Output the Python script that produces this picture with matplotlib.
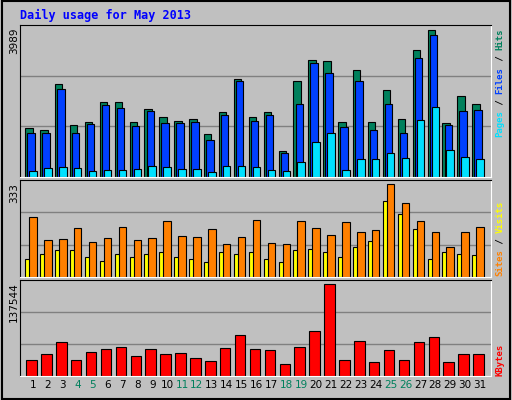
import matplotlib.pyplot as plt
import numpy as np

days = np.arange(1, 32)
hits = [1336, 1282, 2527, 1417, 1498, 2040, 2040, 1498, 1850, 1634, 1525, 1579, 1173, 1769, 2662, 1634,
        1769, 713, 2608, 3177, 3150, 1498, 2906, 1498, 2365, 1579, 3448, 3989, 1471, 2202, 1986]
files = [1200, 1200, 2392, 1200, 1444, 1958, 1877, 1390, 1796, 1471, 1471, 1498, 1011, 1688, 2608, 1525,
         1688, 659, 1986, 3096, 2825, 1363, 2608, 1282, 1986, 1200, 3231, 3854, 1417, 1796, 1823]
pages = [171, 253, 280, 253, 171, 199, 199, 226, 307, 280, 226, 226, 144, 307, 307, 280,
         199, 171, 415, 957, 1200, 199, 496, 496, 659, 523, 1552, 1904, 740, 550, 496]
sites = [66, 84, 95, 95, 70, 59, 81, 73, 84, 88, 73, 63, 55, 88, 84, 88,
         63, 52, 95, 99, 91, 73, 109, 127, 272, 225, 171, 66, 91, 81, 77]
visits = [214, 131, 135, 174, 124, 138, 178, 131, 138, 200, 145, 142, 171, 117, 142, 203,
          120, 117, 200, 174, 149, 196, 160, 167, 333, 264, 200, 160, 106, 160, 178]
kbytes = [24600, 32130, 50200, 24600, 35140, 39660, 42670, 29120, 39660, 32130, 33630, 27610, 23090, 41160,
          60740, 39660, 38150, 18570, 42670, 66770, 137544, 24600, 51700, 21590, 38150, 24600, 50200, 57730,
          21590, 32130, 32130]
weekend = [4, 5, 11, 12, 18, 19, 25, 26]

BG = '#C0C0C0'
W, H = 512, 400
fig = plt.figure(figsize=(W / 100, H / 100), dpi=100, facecolor=BG)

def ax_at(x0, y0, x1, y1):
    ax = fig.add_axes([x0 / W, 1 - y1 / H, (x1 - x0) / W, (y1 - y0) / H])
    ax.set_facecolor(BG)
    ax.set_xlim(0.128, 31.74)
    for s in ['top', 'left']:
        ax.spines[s].set_color('black')
    for s in ['bottom', 'right']:
        ax.spines[s].set_color('white')
    ax.set_xticks([])
    ax.set_yticks([])
    return ax

kw = dict(edgecolor='black', linewidth=0.8, align='edge')

# top panel
ax1 = ax_at(20, 25, 491, 177)
m = max(hits) / 0.97
ax1.set_ylim(0, m)
for g in (m / 3, 2 * m / 3):
    ax1.axhline(g, color='#808080', lw=1, zorder=0)
ax1.bar(days - 0.52, hits, width=0.5, color='#00805C', **kw)
ax1.bar(days - 0.38, files, width=0.5, color='#0040FF', **kw)
ax1.bar(days - 0.25, pages, width=0.5, color='#00E0FF', **kw)

# middle panel
ax2 = ax_at(20, 180, 491, 277)
m = max(visits) / 0.96
ax2.set_ylim(0, m)
for g in (m / 3, 2 * m / 3):
    ax2.axhline(g, color='#808080', lw=1, zorder=0)
ax2.bar(days - 0.52, sites, width=0.35, color='#FFFF00', **kw)
ax2.bar(days - 0.25, visits, width=0.5, color='#FF8000', **kw)

# bottom panel
ax3 = ax_at(20, 280, 491, 376)
m = max(kbytes) / 0.96
ax3.set_ylim(0, m)
for g in (m / 3, 2 * m / 3):
    ax3.axhline(g, color='#808080', lw=1, zorder=0)
ax3.bar(days - 0.45, kbytes, width=0.7, color='#FF0000', **kw)
for d in days:
    ax3.text(d, -0.045, str(d), transform=ax3.get_xaxis_transform(), ha='center', va='top',
             fontsize=7.5, color='#00805C' if d in weekend else 'black')

# texts
fig.text(20 / W, 1 - 15 / H, 'Daily usage for May 2013', color='#0000FF', fontsize=8.5,
         family='DejaVu Sans Mono', weight='bold', va='center')
for y, lab in [(28, '3989'), (183, '333'), (282, '137544')]:
    fig.text(14 / W, 1 - y / H, lab, rotation=90, ha='center', va='top', fontsize=7.5)

FS = 6.5
STEP = 0.602 * FS * 100 / 72

def side(y_bottom, parts):
    y = y_bottom
    for txt, col in parts:
        fig.text(500 / W, 1 - y / H, txt, rotation=90, ha='center', va='bottom', color=col,
                 fontsize=FS, family='DejaVu Sans Mono', weight='bold')
        y -= len(txt) * STEP

side(137, [('Pages', '#00E0FF'), (' / ', 'black'), ('Files', '#0040FF'), (' / ', 'black'), ('Hits', '#00805C')])
side(276, [('Sites', '#FF8000'), (' / ', 'black'), ('Visits', '#FFFF00')])
side(376, [('KBytes', '#FF0000')])

fig.add_artist(plt.Rectangle((0.003, 0.003), 0.994, 0.994, transform=fig.transFigure,
                             fill=False, edgecolor='black', lw=1.5))
fig.savefig('out.png', dpi=100, facecolor=BG)
